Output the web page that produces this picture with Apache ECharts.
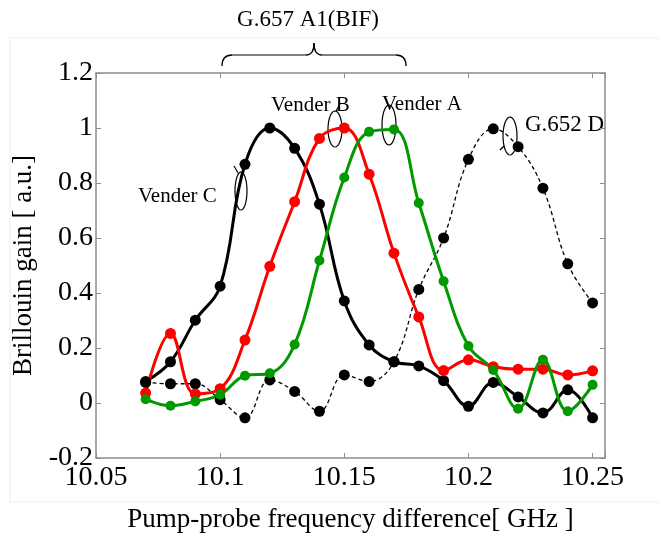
<!DOCTYPE html>
<html>
<head>
<meta charset="utf-8">
<script src="https://cdn.jsdelivr.net/npm/echarts@6/dist/echarts.min.js"></script>
<style>
  html, body { margin: 0; padding: 0; background: #fff; }
  #main { width: 659px; height: 533px; }
</style>
</head>
<body>
<div id="main"></div>
<script>
// frequency points [GHz]
var freq = [10.07, 10.08, 10.09, 10.10, 10.11, 10.12, 10.13, 10.14, 10.15, 10.16,
            10.17, 10.18, 10.19, 10.20, 10.21, 10.22, 10.23, 10.24, 10.25]
// Brillouin gain [a.u.]
var venderC = [0.078, 0.150, 0.301, 0.425, 0.868, 1.0, 0.926, 0.723, 0.371, 0.211,
               0.150, 0.135, 0.081, -0.012, 0.075, 0.022, -0.036, 0.048, -0.054]
var venderB = [0.036, 0.253, 0.033, 0.052, 0.229, 0.497, 0.732, 0.962, 1.0, 0.832,
               0.545, 0.313, 0.118, 0.157, 0.132, 0.123, 0.123, 0.102, 0.117]
var venderA = [0.014, -0.010, 0.006, 0.030, 0.099, 0.108, 0.213, 0.518, 0.820, 0.986,
               0.995, 0.727, 0.443, 0.207, 0.120, -0.021, 0.157, -0.030, 0.066]
var g652d = [0.075, 0.070, 0.070, 0.012, -0.054, 0.084, 0.042, -0.030, 0.102, 0.078,
             0.150, 0.413, 0.600, 0.886, 0.997, 0.932, 0.781, 0.506, 0.364]
var xTicks = [10.05, 10.1, 10.15, 10.2, 10.25]

function pairs(ys) {
  return freq.map(function (x, i) { return [x, ys[i]] })
}

// little loop drawn around a curve (annotation)
function loop(cx, cy, rx, ry) {
  var pts = []
  for (var i = 0; i <= 36; i++) {
    var a = i / 36 * Math.PI * 2
    pts.push([cx + rx * Math.cos(a), cy + ry * Math.sin(a)])
  }
  return { type: 'polyline', shape: { points: pts }, style: { fill: null, stroke: '#000', lineWidth: 1.2 } }
}
function seg(x1, y1, x2, y2) {
  return { type: 'line', shape: { x1: x1, y1: y1, x2: x2, y2: y2 }, style: { stroke: '#000', lineWidth: 1.2 } }
}
function curve(x1, y1, cx, cy, x2, y2) {
  return { type: 'bezierCurve', shape: { x1: x1, y1: y1, cpx1: cx, cpy1: cy, x2: x2, y2: y2 }, style: { fill: null, stroke: '#000', lineWidth: 1.3 } }
}
function label(x, y, text, size) {
  return { type: 'text', x: x, y: y, style: { text: text, font: size + 'px "Liberation Serif"', fill: '#000', verticalAlign: 'middle' } }
}

var font = 'Liberation Serif'
var frame = '#8c8c8c'

var chart = echarts.init(document.getElementById('main'))

var option = {
  animation: false,
  grid: { left: 96, right: 54, top: 73, bottom: 75, containLabel: false, outerBoundsMode: 'none' },
  xAxis: [
    {
      type: 'value',
      min: 10.05,
      max: 10.255,
      interval: 0.05,
      name: 'Pump-probe frequency difference[ GHz ]',
      nameLocation: 'middle',
      nameGap: 48,
      nameTextStyle: { fontFamily: font, fontSize: 27, color: '#000' },
      axisLine: { onZero: false, lineStyle: { color: frame, width: 1.5 } },
      axisTick: { inside: true, length: 5, lineStyle: { color: frame } },
      splitLine: { show: false },
      axisLabel: {
        fontFamily: font, fontSize: 28, color: '#000', margin: 6,
        formatter: function (v) {
          var r = Math.round(v * 100) / 100
          return xTicks.indexOf(r) >= 0 && Math.abs(v - r) < 1e-6 ? String(r) : ''
        }
      }
    },
    {
      type: 'value',
      position: 'top',
      min: 10.05,
      max: 10.255,
      interval: 0.05,
      axisLine: { onZero: false, lineStyle: { color: frame, width: 1.5 } },
      axisTick: { inside: true, length: 5, lineStyle: { color: frame } },
      axisLabel: { show: false },
      splitLine: { show: false }
    }
  ],
  yAxis: [
    {
      type: 'value',
      min: -0.2,
      max: 1.2,
      interval: 0.2,
      name: 'Brillouin gain [ a.u.]',
      nameLocation: 'middle',
      nameGap: 58,
      nameTextStyle: { fontFamily: font, fontSize: 27, color: '#000' },
      axisLine: { show: true, onZero: false, lineStyle: { color: frame, width: 1.5 } },
      axisTick: { show: true, inside: true, length: 5, lineStyle: { color: frame } },
      splitLine: { show: false },
      axisLabel: {
        fontFamily: font, fontSize: 28, color: '#000', margin: 3,
        formatter: function (v) { return String(Math.round(v * 10) / 10) }
      }
    },
    {
      type: 'value',
      position: 'right',
      min: -0.2,
      max: 1.2,
      interval: 0.2,
      axisLine: { show: true, onZero: false, lineStyle: { color: frame, width: 1.5 } },
      axisTick: { show: true, inside: true, length: 5, lineStyle: { color: frame } },
      axisLabel: { show: false },
      splitLine: { show: false }
    }
  ],
  series: [
    {
      name: 'G.652 D',
      type: 'line',
      smooth: 0.4,
      data: pairs(g652d),
      symbol: 'circle',
      symbolSize: 11,
      itemStyle: { color: '#000' },
      lineStyle: { color: '#000', width: 1.3, type: [4, 3] }
    },
    {
      name: 'Vender C',
      type: 'line',
      smooth: 0.4,
      data: pairs(venderC),
      symbol: 'circle',
      symbolSize: 11,
      itemStyle: { color: '#000' },
      lineStyle: { color: '#000', width: 3 }
    },
    {
      name: 'Vender B',
      type: 'line',
      smooth: 0.4,
      data: pairs(venderB),
      symbol: 'circle',
      symbolSize: 11,
      itemStyle: { color: '#ff0000' },
      lineStyle: { color: '#ff0000', width: 3 }
    },
    {
      name: 'Vender A',
      type: 'line',
      smooth: 0.4,
      data: pairs(venderA),
      symbol: 'circle',
      symbolSize: 10,
      itemStyle: { color: '#009900' },
      lineStyle: { color: '#009900', width: 3 }
    }
  ],
  graphic: [
    // faint figure border
    { type: 'rect', shape: { x: 10, y: 38, width: 660, height: 464 }, style: { fill: null, stroke: '#eeeeee', lineWidth: 1 }, z: -1 },
    // brace over the G.657 fibres
    curve(222, 66, 222, 55, 232, 55),
    seg(232, 55, 306, 55),
    curve(306, 55, 314, 55, 314, 43),
    curve(314, 43, 314, 55, 322, 55),
    seg(322, 55, 396, 55),
    curve(396, 55, 406, 55, 406, 66),
    {
      type: 'text', x: 308, y: 20,
      style: { text: 'G.657 A1(BIF)', font: '23px "Liberation Serif"', fill: '#000', align: 'center', verticalAlign: 'middle' }
    },
    label(138, 196, 'Vender C', 21),
    loop(241, 191, 6, 19),
    seg(238, 173, 234, 166),
    label(271, 105, 'Vender B', 21),
    loop(335, 129, 7, 18),
    seg(336, 111, 340, 104),
    label(382, 104, 'Vender A', 21),
    loop(389, 125, 7, 20),
    seg(388, 105, 385, 98),
    label(525, 125, 'G.652 D', 23),
    loop(510, 136, 7, 19),
    seg(504, 146, 500, 150)
  ]
}

chart.setOption(option)
</script>
</body>
</html>
